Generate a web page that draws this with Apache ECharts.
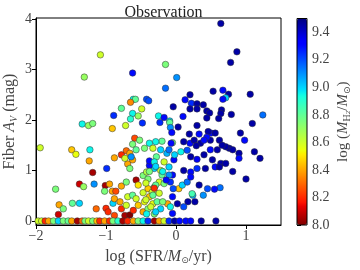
<!DOCTYPE html>
<html><head><meta charset="utf-8">
<script src="https://cdn.jsdelivr.net/npm/echarts@6/dist/echarts.min.js"></script>
<style>html,body{margin:0;padding:0;background:#fff}#c{width:360px;height:270px}</style>
</head><body><div id="c"></div>
<script>
const logSFR = [
-1.08,-1.31,-0.15,-0.62,-0.15,0.01,-0.61,-0.58,-0.65,-0.42,-0.39,-0.78,-0.49,-0.04,-0.89,-0.62,-0.54,-0.65,-1.34,-1.25,-1.19,-0.91,-0.72,-0.48,-0.25,-0.17,-0.09,-0.23,-0.09,-0.08,0.03,-0.06,
0.64,0.87,0.78,0.53,0.67,0.75,0.71,0.67,1.06,0.20,0.13,0.22,0.30,0.39,0.20,0.30,0.44,0.48,0.65,0.64,0.79,0.10,1.24,0.44,0.61,1.09,0.30,0.92,0.50,0.33,
0.19,0.46,0.56,-0.20,-0.05,0.20,0.11,0.26,0.35,0.49,0.44,0.29,-0.22,-0.13,-0.17,0.07,-0.03,0.16,0.21,0.30,0.40,0.49,0.59,0.52,
0.40,0.98,0.62,0.76,0.81,0.71,0.90,0.90,1.12,1.20,0.64,0.71,0.81,1.00,0.56,0.62,0.63,0.55,0.39,0.24,0.66,
-1.94,-1.49,-1.43,-1.23,-1.24,-1.19,-0.99,-1.72,-1.38,-1.32,-1.17,-1.01,-0.95,-1.67,-1.68,-1.48,-1.38,-1.14,-1.00,-0.91,-0.86,-0.90,-1.61,
-0.69,-0.66,-0.57,-0.54,-0.47,-0.42,-0.40,-0.31,-0.38,-1.02,-0.78,-0.71,-0.69,-0.62,-0.57,-0.47,-0.40,-0.34,-0.31,-0.38,-0.45,-0.88,-0.97,-0.80,-0.78,-0.71,-0.73,-0.66,-0.61,-0.54,-0.47,-0.40,-0.42,-0.33,-0.31,-0.88,
-0.59,-0.62,-0.38,-0.29,-0.57,-0.71,-0.78,-0.66,-0.45,-0.33,-0.88,-0.73,-0.62,-0.38,-0.64,-0.28,
-0.22,-0.10,-0.05,0.11,0.21,0.30,0.42,-0.20,-0.24,-0.17,-0.08,0.04,-0.04,0.09,0.16,0.21,0.23,0.33,0.17,0.27,-0.05,-0.12,-0.08,0.11,0.02,-0.22,-0.27,0.45,
-0.52,-0.07,-0.10,-0.02,-0.31,-0.29,-0.38,-0.19,-0.10,-0.14,-0.43,-0.29,-0.31,-0.24,-0.33,-0.43,-0.19,-0.05,-0.36,-0.29,
-1.97,-1.92,-1.87,-1.82,-1.75,-1.68,-1.61,-1.54,-1.49,-1.41,-1.34,-1.30,-1.25,-1.19,-1.13,-1.09,-1.02,-0.95,-0.90,-0.83,-0.76,-0.69,-0.61,-0.54,-0.47,-0.40,-0.31,-0.24,-0.17,-0.10,-0.02,0.05,0.14,0.21,0.36,0.57
];
const fiberAV = [
3.29,2.85,3.10,2.93,2.63,2.84,2.41,2.41,2.35,2.41,2.38,2.23,2.22,2.26,2.09,2.13,2.08,2.02,1.92,1.89,1.93,1.83,1.89,1.94,2.08,2.05,1.98,1.95,1.95,1.85,1.86,1.75,
3.91,3.35,3.14,2.57,2.59,2.51,2.44,2.41,2.51,2.50,2.40,2.33,2.32,2.30,2.22,2.22,2.18,2.14,2.20,2.13,2.11,2.07,2.10,2.04,2.03,1.93,1.89,1.74,1.74,1.72,
1.72,1.77,1.74,1.58,1.55,1.54,1.57,1.60,1.54,1.60,1.66,1.49,1.41,1.34,1.17,1.37,1.21,1.40,1.27,1.22,1.31,1.41,1.41,1.21,
1.60,1.60,1.60,1.44,1.41,1.47,1.34,1.24,1.37,1.24,1.14,1.14,0.98,0.83,1.07,1.07,0.66,0.63,0.51,0.51,1.50,
1.45,1.41,1.32,1.41,1.19,0.96,1.04,0.63,0.73,0.68,0.73,0.70,0.73,0.32,0.13,0.35,0.35,0.24,0.25,0.59,0.59,0.35,0.24,
1.13,1.04,0.81,0.71,0.90,0.97,0.83,1.04,1.10,0.59,0.69,0.77,0.48,0.51,0.44,0.56,0.64,0.57,0.67,0.48,0.38,0.44,0.18,0.38,0.24,0.31,0.11,0.12,0.21,0.31,0.18,0.24,0.14,0.34,0.14,0.11,
1.64,1.52,1.54,1.57,1.41,1.39,1.31,1.34,1.44,1.44,1.25,1.24,1.21,1.19,1.27,1.27,
1.00,1.07,0.91,1.00,0.97,1.04,1.04,0.91,0.77,0.74,0.77,0.64,0.64,0.71,0.77,0.87,0.54,0.71,0.38,0.38,0.48,0.34,0.28,0.28,0.34,0.24,0.38,0.64,
1.60,1.54,1.41,1.31,1.17,1.08,0.98,0.98,0.91,0.81,0.75,0.71,0.65,0.55,0.51,0.42,0.38,0.15,0.28,0.18,
0,0,0,0,0,0,0,0,0,0,0,0,0,0,0,0,0,0,0,0,0,0,0,0,0,0,0,0,0,0,0,0,0,0,0,0
];
const logMH2 = [
8.60,8.70,8.75,9.30,9.15,9.10,8.95,8.80,8.35,9.20,9.20,8.80,8.60,9.45,9.25,8.95,8.70,8.90,8.95,8.70,8.75,8.45,8.60,9.25,8.95,9.30,9.00,9.25,8.80,9.10,9.45,9.30,
9.45,9.45,9.45,9.45,9.30,9.45,9.00,9.30,9.45,9.45,9.30,9.25,9.45,9.45,9.45,9.45,9.45,9.45,9.45,9.45,9.45,9.30,9.15,9.45,9.45,9.45,9.45,9.45,9.30,9.30,
9.45,9.45,9.45,8.80,8.75,9.30,9.45,9.45,9.45,9.45,9.30,9.45,9.00,9.05,8.60,8.95,9.30,9.20,9.45,9.35,9.45,9.30,9.45,9.45,
9.30,9.30,9.45,9.45,9.45,9.45,9.45,9.30,9.45,9.45,9.45,9.45,9.45,9.45,9.30,9.45,9.15,9.30,9.10,9.05,9.45,
8.60,8.45,8.55,8.95,8.40,8.05,9.25,8.75,8.10,8.70,9.10,8.05,8.40,8.40,8.10,8.80,9.00,8.30,8.20,8.40,8.25,9.00,8.75,
8.40,8.75,8.05,8.50,8.75,8.65,8.75,9.00,9.30,8.75,8.40,8.75,8.60,8.80,8.60,8.60,8.45,8.60,8.75,8.45,8.55,8.40,8.20,8.40,8.20,8.60,8.05,8.00,8.20,8.45,8.40,8.75,8.95,8.55,8.75,8.25,
8.25,8.75,8.95,8.95,8.80,8.30,8.20,8.40,8.75,8.60,8.40,8.60,8.40,9.30,9.10,8.80,
8.60,9.00,9.30,9.45,9.30,9.25,9.45,8.80,8.60,8.75,9.25,8.45,9.20,9.00,9.15,9.30,8.85,9.45,9.45,9.45,9.30,8.40,8.95,9.20,9.45,9.00,8.80,9.20,
8.75,9.30,9.15,9.00,8.95,9.00,8.75,8.95,9.10,9.30,8.60,8.80,8.20,8.60,8.80,8.60,8.75,9.30,8.60,9.00,
8.60,8.60,8.20,8.40,8.75,9.00,8.75,8.80,8.40,8.05,8.30,8.75,8.60,8.75,8.45,8.20,8.40,8.20,8.75,8.90,8.05,8.20,8.40,8.75,8.95,9.25,8.05,8.40,8.60,9.25,9.45,9.30,9.30,9.30,9.45,9.45
];
const xTicks = [-2, -1, 0, 1];
const yTicks = [0, 1, 2, 3, 4];
const cbTicks = [8.0, 8.2, 8.4, 8.6, 8.8, 9.0, 9.2, 9.4];

function interp(pts, t) {
  for (let i = 1; i < pts.length; i++) {
    if (t <= pts[i][0]) {
      const a = pts[i-1], b = pts[i];
      return a[1] + (b[1]-a[1]) * (t - a[0]) / (b[0]-a[0]);
    }
  }
  return pts[pts.length-1][1];
}
function jet(t) {
  const r = interp([[0,0],[0.35,0],[0.66,1],[0.89,1],[1,0.5]], t);
  const g = interp([[0,0],[0.125,0],[0.375,1],[0.64,1],[0.91,0],[1,0]], t);
  const b = interp([[0,0.5],[0.11,1],[0.34,1],[0.65,0],[1,0]], t);
  const h = v => Math.round(v*255).toString(16).padStart(2,'0');
  return '#' + h(r) + h(g) + h(b);
}
const colors = [];
for (let i = 0; i <= 100; i++) colors.push(jet(1 - i/100));

const data = logSFR.map((x, i) => [x, fiberAV[i], logMH2[i]]);
const FONT = 'Liberation Serif';
const minus = v => String(v).replace('-', '\u2212');

const chart = echarts.init(document.getElementById('c'), null, {renderer: 'canvas'});
chart.setOption({
  animation: false,
  backgroundColor: '#fff',
  title: {
    text: 'Observation', left: 158.5, top: 0, textAlign: 'center',
    textStyle: {fontFamily: FONT, fontSize: 16, fontWeight: 'normal', color: '#222'}
  },
  grid: [
    {left: 36, top: 18, width: 245, height: 207, show: true, borderColor: '#000', borderWidth: 1, outerBoundsMode: 'none', containLabel: false},
    {left: 297, top: 18.5, width: 10, height: 206.5, show: true, borderColor: '#000', borderWidth: 1, z: 10, backgroundColor: 'transparent', outerBoundsMode: 'none', containLabel: false}
  ],
  xAxis: [
    {type: 'value', gridIndex: 0, min: -2, max: 1.5,
     axisLine: {onZero: false, lineStyle: {color: '#000'}},
     axisTick: {customValues: xTicks, length: 4, inside: false, lineStyle: {color: '#000'}},
     axisLabel: {customValues: xTicks, formatter: minus, fontFamily: FONT, fontSize: 14, color: '#444', margin: 4},
     splitLine: {show: false},
     name: '{n|log (SFR/}{i|M}{s|\u2299}{n|/yr)}', nameLocation: 'middle', nameGap: 23,
     nameTextStyle: {rich: {
       n: {fontFamily: FONT, fontSize: 16, color: '#444'},
       i: {fontFamily: FONT, fontSize: 16, fontStyle: 'italic', color: '#444'},
       s: {fontFamily: 'DejaVu Sans', fontSize: 9, color: '#444', verticalAlign: 'bottom', padding: [8,0,0,0]}
     }}},
    {type: 'value', gridIndex: 1, min: 0, max: 1, show: false}
  ],
  yAxis: [
    {type: 'value', gridIndex: 0, min: -0.08, max: 4.02,
     axisLine: {onZero: false, lineStyle: {color: '#000'}},
     axisTick: {customValues: yTicks, length: 4, lineStyle: {color: '#000'}},
     axisLabel: {customValues: yTicks, formatter: minus, fontFamily: FONT, fontSize: 14, color: '#444', margin: 4},
     splitLine: {show: false},
     name: '{n|Fiber }{i|A}{s|V}{n| (mag)}', nameLocation: 'middle', nameGap: 17, nameMoveOverlap: false,
     nameTextStyle: {rich: {
       n: {fontFamily: FONT, fontSize: 16, color: '#444'},
       i: {fontFamily: FONT, fontSize: 16, fontStyle: 'italic', color: '#444'},
       s: {fontFamily: FONT, fontSize: 10, fontStyle: 'italic', color: '#444', verticalAlign: 'bottom', padding: [8,0,0,0]}
     }}},
    {type: 'value', gridIndex: 1, min: 8, max: 9.5, position: 'right',
     axisLine: {show: false},
     axisTick: {customValues: cbTicks, length: 4, lineStyle: {color: '#000'}},
     axisLabel: {customValues: cbTicks, formatter: v => v.toFixed(1), fontFamily: FONT, fontSize: 14, color: '#444', margin: 5},
     splitLine: {show: false},
     name: '{n|log (}{i|M}{s|H}{ss|2}{n|/}{i|M}{s2|\u2299}{n|)}', nameLocation: 'middle', nameGap: 27,
     nameTextStyle: {rich: {
       n: {fontFamily: FONT, fontSize: 15, color: '#444'},
       i: {fontFamily: FONT, fontSize: 15, fontStyle: 'italic', color: '#444'},
       s: {fontFamily: FONT, fontSize: 10, color: '#444', verticalAlign: 'bottom', padding: [8,0,0,0]},
       ss: {fontFamily: FONT, fontSize: 7, color: '#444', verticalAlign: 'bottom', padding: [11,0,0,0]},
       s2: {fontFamily: 'DejaVu Sans', fontSize: 9, color: '#444', verticalAlign: 'bottom', padding: [8,0,0,0]}
     }}}
  ],
  visualMap: {
    type: 'continuous', min: 8, max: 9.5, dimension: 2, seriesIndex: 0,
    inRange: {color: colors}, show: true, calculable: false,
    itemWidth: 10, itemHeight: 206.5, left: 297, top: 18.5, padding: 0,
    text: null, orient: 'vertical'
  },
  series: [{
    type: 'scatter', xAxisIndex: 0, yAxisIndex: 0, data: data,
    symbolSize: 6.5,
    itemStyle: {borderColor: '#333', borderWidth: 0.5, opacity: 1},
    clip: false
  }]
});
</script></body></html>
